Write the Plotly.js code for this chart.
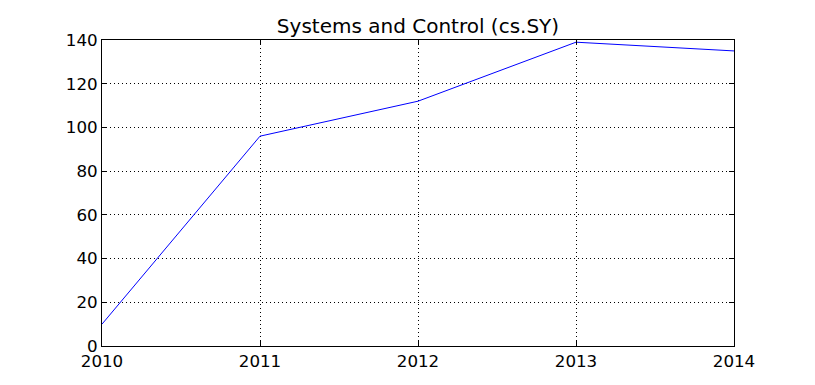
<!DOCTYPE html>
<html><head><meta charset="utf-8">
<script src="https://cdn.plot.ly/plotly-3.0.1.min.js"></script>
<style>html,body{margin:0;padding:0;background:#fff}</style>
</head><body>
<div id="chart" style="width:815px;height:385px"></div>
<script>
const years = [2010, 2011, 2012, 2013, 2014];
const counts = [10, 96, 112, 139, 135];
const yTicks = [0, 20, 40, 60, 80, 100, 120, 140];
const titleText = "Systems and Control (cs.SY)";

const axisCommon = {
  showline: true, linecolor: '#000', linewidth: 1, mirror: 'ticks',
  ticks: 'inside', ticklen: 5, tickcolor: '#000', tickwidth: 1,
  showgrid: true, gridcolor: '#000', gridwidth: 1, griddash: '1px,3px',
  zeroline: false,
  tickfont: {family: 'DejaVu Sans', size: 16.7, color: '#000'}
};

Plotly.newPlot('chart', [{
  x: years, y: counts, type: 'scatter', mode: 'lines',
  line: {color: '#0000ff', width: 1}
}], {
  width: 815, height: 385,
  margin: {l: 102, r: 81, t: 39.5, b: 38.5},
  paper_bgcolor: '#fff', plot_bgcolor: '#fff',
  showlegend: false,
  title: {text: titleText, font: {family: 'DejaVu Sans', size: 20, color: '#000'},
          x: 0.5, xref: 'paper', y: 1, yref: 'paper', yanchor: 'bottom', pad: {b: 7}},
  xaxis: Object.assign({}, axisCommon, {range: [2010, 2014], tickvals: years, ticktext: years.map(String)}),
  yaxis: Object.assign({}, axisCommon, {range: [0, 140], tickvals: yTicks})
}, {staticPlot: true});
</script>
</body></html>
